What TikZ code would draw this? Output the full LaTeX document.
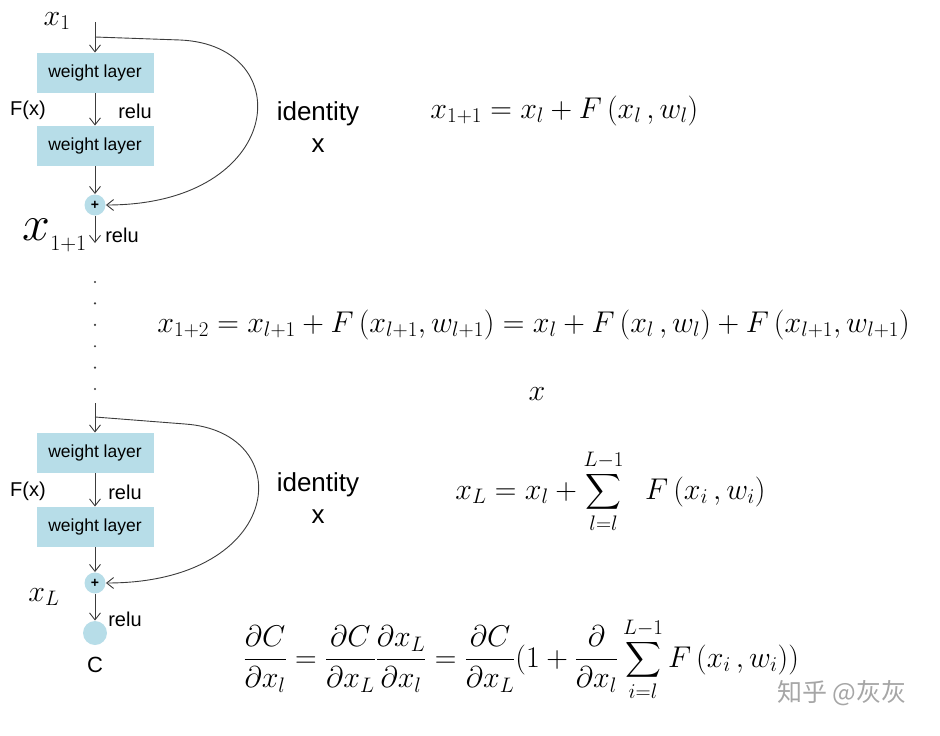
\RequirePackage{fix-cm}
\documentclass[tikz,border=0pt]{standalone}
\usepackage{exscale}
\usepackage{fontspec}
\setmainfont{Liberation Sans}
\newfontfamily\cjkfont{Noto Sans CJK SC}
\usetikzlibrary{arrows.meta}
\definecolor{layerblue}{RGB}{183,221,232}
\definecolor{inkgray}{RGB}{60,60,60}
\tikzset{
  layer/.style={fill=layerblue,minimum width=117pt,minimum height=40pt,inner sep=0pt,
    font=\fontsize{17.5}{20}\selectfont},
  addop/.style={circle,fill=layerblue,minimum size=21pt,inner sep=0pt,
    font=\fontsize{14}{14}\selectfont\bfseries},
  lbl/.style={font=\fontsize{20}{22}\selectfont},
  note/.style={font=\fontsize{26}{28}\selectfont},
  eq/.style={anchor=base west,inner sep=0pt,font=\fontsize{30}{34}\selectfont},
}
\begin{document}
\begin{tikzpicture}[x=1pt,y=-1pt,line width=0.9pt,draw=inkgray,
    >={Straight Barb[length=7pt,width=11pt]}]
        \useasboundingbox (0,0) rectangle (940,736);
        % first residual block
        \coordinate (in1) at (95,22);
        \coordinate (split1) at (95,37);
        \node[layer] (w1) at (95,73) {weight layer};
        \node[layer] (w2) at (95,146) {weight layer};
        \node[addop] (plus1) at (95,205) {+};
        \coordinate (out1) at (95,243);
        \draw[->] (in1) -- (w1.north);
        \draw[->] (w1) -- (w2);
        \draw[->] (w2) -- (plus1);
        \draw[->] (plus1) -- (out1);
        \draw[->] (split1) -- (180,40) .. controls (300,45) and (285,205) .. (plus1.east);
        \node[lbl] (fx1) at (28,110) {F(x)};
        \node[lbl] (relu1) at (135,111) {relu};
        \node[lbl] (relu2) at (122,235) {relu};
        \node[note] (id1) at (318,114) {identity};
        \node[note] (idx1) at (318,146) {x};
        \node[inner sep=0pt,anchor=base,font=\fontsize{30}{32}\selectfont] (xin) at (57,25) {$x_1$};
        \node[inner sep=0pt,anchor=base west] (xout) at (22,240)
          {\fontsize{50}{52}\selectfont$x$\raisebox{-10pt}{\fontsize{22}{24}\selectfont$1{+}1$}};
        % dots
        \foreach \i in {0,...,5}
          \fill[inkgray] (95,{282+21.4*\i}) circle (1.2pt);
        % last residual block
        \coordinate (in2) at (95,403);
        \coordinate (split2) at (95,417);
        \node[layer] (w3) at (95,453) {weight layer};
        \node[layer] (w4) at (95,527) {weight layer};
        \node[addop] (plus2) at (95,583) {+};
        \node[circle,fill=layerblue,minimum size=24pt,inner sep=0pt] (cost) at (95,633) {};
        \draw[->] (in2) -- (w3.north);
        \draw[->] (w3) -- (w4);
        \draw[->] (w4) -- (plus2);
        \draw[->] (plus2) -- (cost);
        \draw[->] (split2) -- (185,424) .. controls (300,432) and (285,583) .. (plus2.east);
        \node[lbl] (fx2) at (28,491) {F(x)};
        \node[lbl] (relu3) at (125,492) {relu};
        \node[lbl] (relu4) at (125,619) {relu};
        \node[lbl,font=\fontsize{22}{24}\selectfont] (clbl) at (95,665) {C};
        \node[note] (id2) at (318,485) {identity};
        \node[note] (idx2) at (318,517) {x};
        \node[inner sep=0pt,font=\fontsize{30}{32}\selectfont] (xl) at (44,597) {$x_L$};
        % equations
        \node[eq] (eq1) at (430,118) {$x_{1+1} = x_l + F\,(x_l\,, w_l)$};
        \node[eq] (eq2) at (157,332)
          {$x_{1+2} = x_{l+1} + F\,(x_{l+1}, w_{l+1}) = x_l + F\,(x_l\,, w_l) + F\,(x_{l+1}, w_{l+1})$};
        \node[eq,anchor=base] (eqx) at (537,400) {$x$};
        \node[eq] (eq3) at (455,499) {$\displaystyle x_L = x_l + \sum_{l=l}^{L-1}\;\; F\,(x_i\,, w_i)$};
        \node[eq] (eq4) at (243,667)
          {$\displaystyle \frac{\partial C}{\partial x_l} = \frac{\partial C}{\partial x_L}\frac{\partial x_L}{\partial x_l}
            = \frac{\partial C}{\partial x_L}(1+\frac{\partial}{\partial x_l}\sum_{i=l}^{L-1}F\,(x_i\,, w_i))$};
        % watermark
        \node[text=black!35,font=\cjkfont\fontsize{25}{27}\selectfont] (mark) at (842,693) {知乎 @灰灰};
\end{tikzpicture}
\end{document}
